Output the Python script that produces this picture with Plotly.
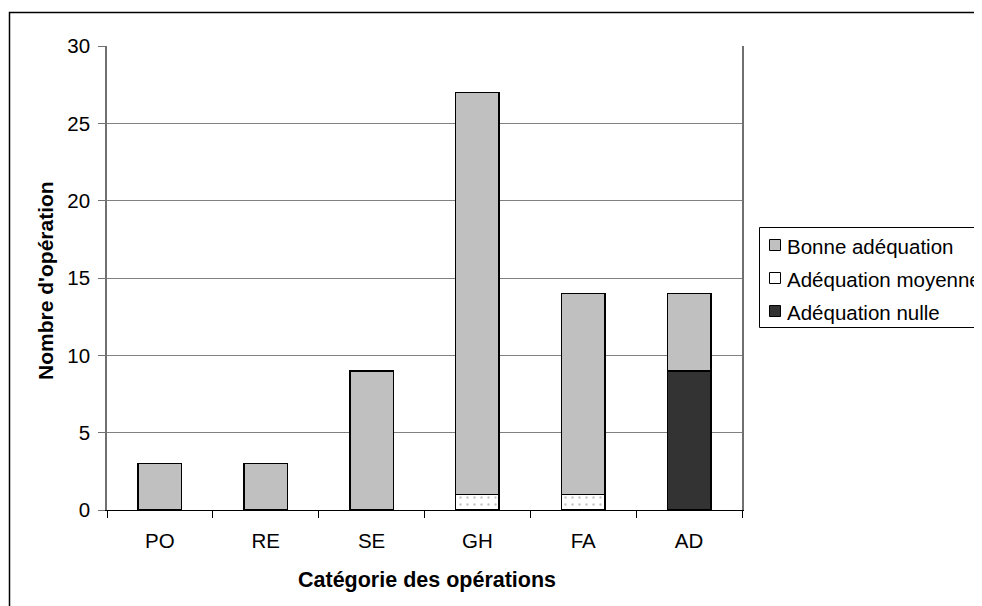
import plotly.graph_objects as go

categories = ["PO", "RE", "SE", "GH", "FA", "AD"]
bonne = [3, 3, 9, 26, 13, 5]
moyenne = [0, 0, 0, 1, 1, 0]
nulle = [0, 0, 0, 0, 0, 9]
y_ticks = [0, 5, 10, 15, 20, 25, 30]

FONT = "Liberation Sans, Arial, sans-serif"

# page body has an 8px margin: work in reference pixels and shift
OFF = 8
W, H = 982 - OFF, 606 - OFF
L, T = 107 - OFF, 46 - OFF
R = W - (742 - OFF)
B = H - (510 - OFF)
pw, ph = W - L - R, H - T - B


def px(x):
    return (x - OFF - L) / pw


def py(y):
    return (H - B - (y - OFF)) / ph


series = [
    dict(name="Adéquation nulle", values=nulle, color="#333333", pattern=None),
    dict(name="Adéquation moyenne", values=moyenne, color="white",
         pattern=dict(shape=".", fgcolor="#8a8a8a", bgcolor="white", size=7, solidity=0.09)),
    dict(name="Bonne adéquation", values=bonne, color="#C0C0C0", pattern=None),
]

fig = go.Figure()
for s in series:
    marker = dict(color=s["color"], line=dict(color="black", width=1.5))
    if s["pattern"]:
        marker["pattern"] = s["pattern"]
    fig.add_trace(go.Bar(x=categories, y=s["values"], name=s["name"], marker=marker,
                         showlegend=False))

# legend drawn by hand (box partly outside the window, as in the reference)
shapes = [
    dict(type="rect", xref="paper", yref="paper",
         x0=px(9.5), y1=py(12.5), x1=1.6, y0=-0.5,
         line=dict(color="black", width=1.5), fillcolor="rgba(0,0,0,0)", layer="below"),
    dict(type="rect", xref="paper", yref="paper",
         x0=px(759.5), x1=1.6, y1=py(227.5), y0=py(327.5),
         line=dict(color="black", width=1), fillcolor="white"),
]
annotations = [
    dict(text="<b>Nombre d'opération</b>", xref="paper", yref="paper",
         x=px(45), y=py(281), textangle=-90, showarrow=False,
         xanchor="center", yanchor="middle", font=dict(family=FONT, size=21)),
    dict(text="<b>Catégorie des opérations</b>", xref="paper", yref="paper",
         x=px(427), y=py(580), showarrow=False,
         xanchor="center", yanchor="middle", font=dict(family=FONT, size=21.5)),
]
legend_rows = [245, 278, 311]
for s, yc in zip(reversed(series), legend_rows):
    shapes.append(dict(type="rect", xref="paper", yref="paper",
                       x0=px(769.5), x1=px(780.5), y0=py(yc + 5.5), y1=py(yc - 5.5),
                       line=dict(color="black", width=1), fillcolor=s["color"]))
    annotations.append(dict(text=s["name"], xref="paper", yref="paper",
                            x=px(785), y=py(yc + 1), showarrow=False,
                            xanchor="left", yanchor="middle",
                            font=dict(family=FONT, size=20.5, color="black")))

fig.update_layout(
    width=W, height=H,
    barmode="stack", bargap=0.59,
    paper_bgcolor="white", plot_bgcolor="white",
    margin=dict(l=L, r=R, t=T, b=B, autoexpand=False),
    font=dict(family=FONT, size=20.5, color="black"),
    showlegend=False,
    xaxis=dict(showline=True, linecolor="black", linewidth=1, ticks="outside",
               tickson="boundaries", ticklen=7, tickcolor="black",
               ticklabelstandoff=12, showgrid=False),
    yaxis=dict(range=[0, 30], tickvals=y_ticks, showline=True, linecolor="#707070",
               linewidth=1.5, mirror=True, ticks="outside", ticklen=7, tickcolor="#707070",
               showgrid=True, gridcolor="#808080", gridwidth=1, zeroline=False,
               ticklabelstandoff=4),
    annotations=annotations,
    shapes=shapes,
)

fig.write_html("out.html")
